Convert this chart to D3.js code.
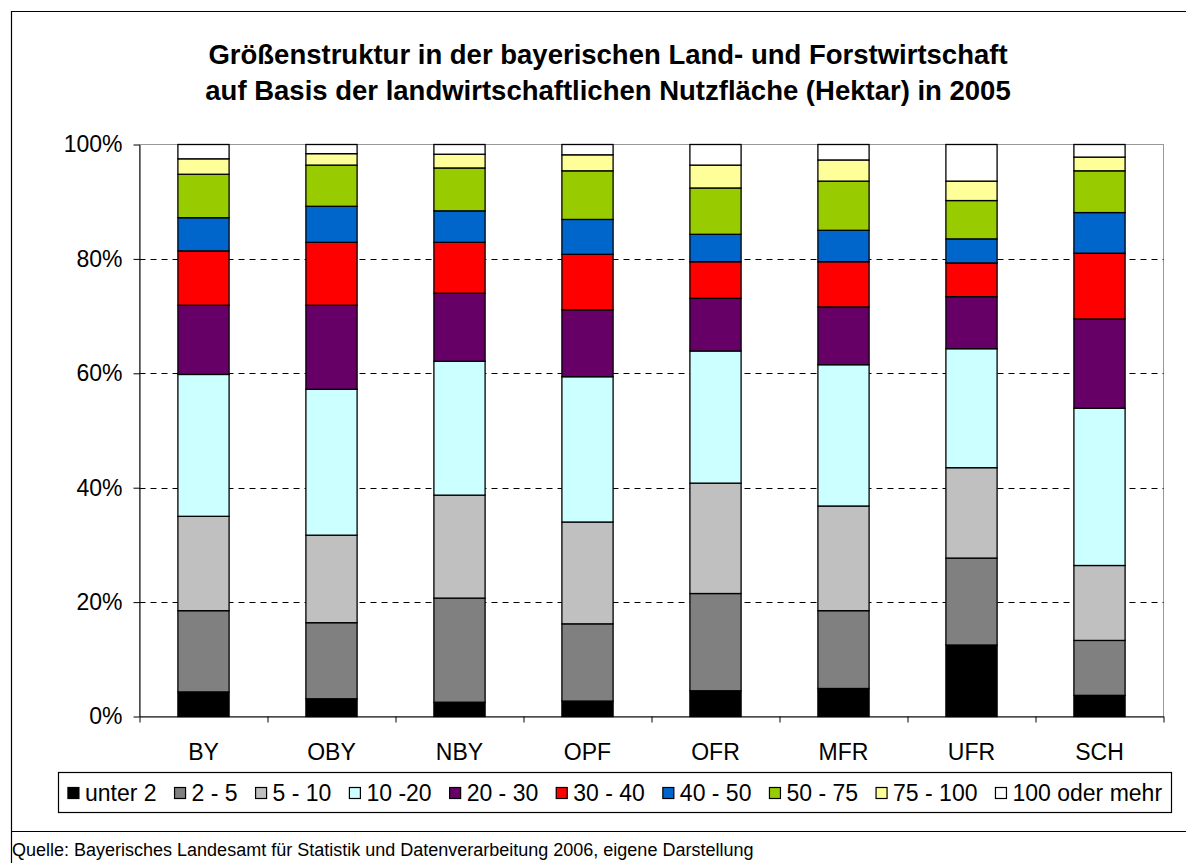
<!DOCTYPE html>
<html><head><meta charset="utf-8">
<script src="https://cdn.jsdelivr.net/npm/d3@7"></script>
<style>body{margin:0;background:#fff}svg{display:block;font-family:"Liberation Sans",Arial,sans-serif}</style>
</head><body>
<script>
const categories = ["BY","OBY","NBY","OPF","OFR","MFR","UFR","SCH"];
const sizeClasses = ["unter 2","2 - 5","5 - 10","10 -20","20 - 30","30 - 40","40 - 50","50 - 75","75 - 100","100 oder mehr"];
const colors = ["#000000","#808080","#C0C0C0","#CCFFFF","#660066","#FF0000","#0066CC","#99CC00","#FFFF99","#FFFFFF"];
// shares (%) per size class, one value per region (same order as categories)
const unter2     = [4.3, 3.1, 2.5, 2.7, 4.5, 4.9, 12.5, 3.7];
const ha2_5      = [14.2,13.3,18.2,13.5,17.0,13.6,15.2, 9.6];
const ha5_10     = [16.5,15.3,18.0,17.8,19.3,18.3,15.8,13.1];
const ha10_20    = [24.8,25.5,23.4,25.4,23.1,24.7,20.8,27.5];
const ha20_30    = [12.1,14.7,11.9,11.7, 9.2,10.1, 9.1,15.6];
const ha30_40    = [ 9.5,11.0, 8.9, 9.7, 6.4, 7.9, 5.9,11.5];
const ha40_50    = [ 5.8, 6.3, 5.5, 6.1, 4.8, 5.5, 4.2, 7.1];
const ha50_75    = [ 7.6, 7.2, 7.5, 8.5, 8.1, 8.6, 6.7, 7.3];
const ha75_100   = [ 2.7, 2.0, 2.4, 2.8, 4.0, 3.7, 3.4, 2.4];
const ha100plus  = [ 2.5, 1.6, 1.7, 1.8, 3.6, 2.7, 6.4, 2.2];
const yTicks = [0, 0.2, 0.4, 0.6, 0.8, 1.0];
const titleLines = ["Größenstruktur in der bayerischen Land- und Forstwirtschaft","auf Basis der landwirtschaftlichen Nutzfläche (Hektar) in 2005"];
const sourceText = "Quelle: Bayerisches Landesamt für Statistik und Datenverarbeitung 2006, eigene Darstellung";

const seriesValues = [unter2,ha2_5,ha5_10,ha10_20,ha20_30,ha30_40,ha40_50,ha50_75,ha75_100,ha100plus];
const rows = categories.map((c,i)=>{const r={cat:c}; sizeClasses.forEach((s,k)=>r[s]=seriesValues[k][i]); return r;});
const stacked = d3.stack().keys(sizeClasses).offset(d3.stackOffsetExpand)(rows);

const W=1186,H=863;
const svg=d3.select("body").append("svg").attr("width",W).attr("height",H);
// outer chart border
svg.append("path").attr("d","M11.5,863 L11.5,11.5 L1186,11.5").attr("fill","none").attr("stroke","#000").attr("stroke-width",1.2);
svg.append("line").attr("x1",11.5).attr("x2",1186).attr("y1",831.5).attr("y2",831.5).attr("stroke","#000").attr("stroke-width",1.2);

const L=139.5,R=1163.5,T=144.5,B=716.5;
const x=d3.scaleBand().domain(categories).range([L,R]).paddingInner(0.6).paddingOuter(0.3);
const y=d3.scaleLinear().domain([0,1]).range([B,T]);

// plot area border (gray)
svg.append("rect").attr("x",L).attr("y",T).attr("width",R-L).attr("height",B-T).attr("fill","none").attr("stroke","#999").attr("stroke-width",1);
// gridlines
svg.append("g").selectAll("line").data(yTicks.filter(t=>t>0&&t<1)).join("line")
 .attr("x1",L).attr("x2",R).attr("y1",d=>Math.round(y(d))+0.5).attr("y2",d=>Math.round(y(d))+0.5)
 .attr("stroke","#000").attr("stroke-dasharray","6,5").attr("stroke-width",1);

// bars
svg.append("g").selectAll("g").data(stacked).join("g")
 .attr("fill",(d,i)=>colors[i])
 .selectAll("rect").data(d=>d).join("rect")
 .attr("x",d=>x(d.data.cat)).attr("width",x.bandwidth())
 .attr("y",d=>y(d[1])).attr("height",d=>y(d[0])-y(d[1]))
 .attr("stroke","#000").attr("stroke-width",1.3);

// axes
const yAxis=svg.append("g").attr("transform",`translate(${L},0)`)
 .call(d3.axisLeft(y).tickValues(yTicks).tickFormat(d3.format(".0%")).tickSize(6).tickSizeOuter(0));
yAxis.select(".domain").attr("stroke","#000");
yAxis.selectAll("text").attr("font-size",23).attr("fill","#000").attr("x",-17).attr("font-family","Liberation Sans, Arial, sans-serif");
yAxis.selectAll(".tick line").attr("stroke","#000");

const xb=d3.scaleLinear().domain([0,categories.length]).range([L,R]);
const xAxis=svg.append("g").attr("transform",`translate(0,${B})`)
 .call(d3.axisBottom(xb).tickValues(d3.range(categories.length+1)).tickFormat("").tickSize(6).tickSizeOuter(0));
xAxis.select(".domain").attr("stroke","#000");
xAxis.selectAll(".tick line").attr("stroke","#000");
svg.append("g").selectAll("text").data(categories).join("text")
 .attr("x",d=>x(d)+x.bandwidth()/2).attr("y",760).attr("text-anchor","middle")
 .attr("font-size",23).text(d=>d);

// title
svg.append("g").selectAll("text").data(titleLines).join("text")
 .attr("x",608).attr("y",(d,i)=>64+i*36).attr("text-anchor","middle")
 .attr("font-size",27.5).attr("font-weight","bold").text(d=>d);

// legend
const lg=svg.append("g");
lg.append("rect").attr("x",58.5).attr("y",772.5).attr("width",1113).attr("height",40).attr("fill","#fff").attr("stroke","#000").attr("stroke-width",1.2);
const items=lg.selectAll("g.item").data(sizeClasses).join("g").attr("class","item");
items.append("rect").attr("width",11).attr("height",11).attr("y",787.5).attr("fill",(d,i)=>colors[i]).attr("stroke","#000").attr("stroke-width",1.2);
items.append("text").attr("x",17).attr("y",801).attr("font-size",23).text(d=>d);
const widths=[];items.select("text").each(function(){widths.push(this.getComputedTextLength());});
const gap=18;
const total=d3.sum(widths.map(w=>w+17))+gap*(widths.length-1);
let cx=58.5+(1113-total)/2;
items.each(function(d,i){d3.select(this).attr("transform",`translate(${cx},0)`);cx+=widths[i]+17+gap;});

// source
svg.append("text").attr("x",12).attr("y",856).attr("font-size",18).text(sourceText);
</script>
</body></html>
